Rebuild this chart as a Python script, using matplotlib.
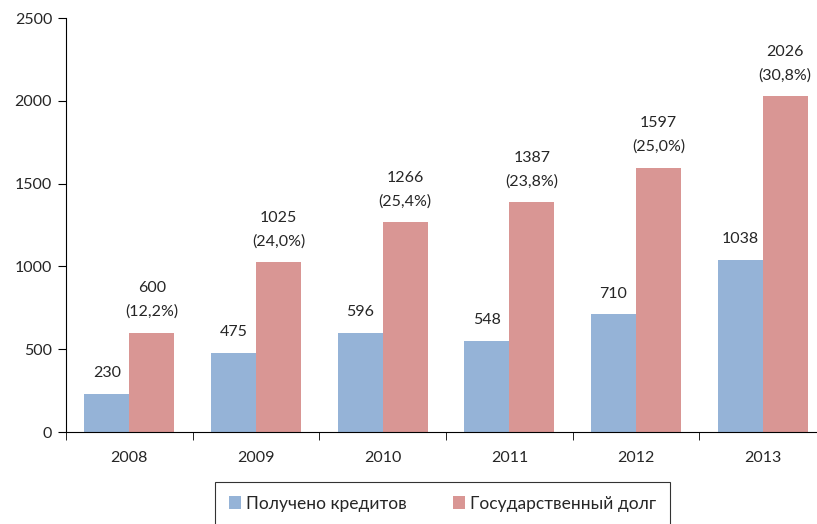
import numpy as np
import matplotlib
matplotlib.use("Agg")
import matplotlib.pyplot as plt

years = ["2008", "2009", "2010", "2011", "2012", "2013"]
credits = [230, 475, 596, 548, 710, 1038]
debt = [600, 1025, 1266, 1387, 1597, 2026]
debt_share = ["12,2%", "24,0%", "25,4%", "23,8%", "25,0%", "30,8%"]

plt.rcParams['font.family'] = ['Lato', 'DejaVu Sans']
plt.rcParams['font.size'] = 11
txt = '#262626'

fig = plt.figure(figsize=(8.17, 5.24), dpi=100)
# axes run slightly past the right edge, as in the original
ax = fig.add_axes([66 / 817, 1 - 432 / 524, 760 / 817, 414 / 524])

x = np.arange(len(years))
w = 0.355
b1 = ax.bar(x - w / 2, credits, w, color='#95B3D7', label='Получено кредитов')
b2 = ax.bar(x + w / 2, debt, w, color='#D99694', label='Государственный долг')

for xi, v in zip(x, credits):
    ax.annotate(str(v), (xi - w / 2, v), xytext=(0, 10), textcoords='offset points',
                ha='center', va='bottom', color=txt, fontsize=11.5)
for xi, v, s in zip(x, debt, debt_share):
    ax.annotate(f"{v}\n({s})", (xi + w / 2, v), xytext=(0, 10), textcoords='offset points',
                ha='center', va='bottom', color=txt, fontsize=11.5, linespacing=1.8)

ax.set_xlim(-0.5, len(years) - 0.5)
ax.set_ylim(0, 2500)
ax.set_yticks(range(0, 2501, 500))
ax.set_xticks(x)
ax.set_xticklabels(years)
ax.set_xticks(np.arange(-0.5, len(years), 1), minor=True)
ax.tick_params(axis='x', which='major', length=0, pad=14, labelcolor=txt, labelsize=11.5)
ax.tick_params(axis='x', which='minor', length=6, direction='out', color='black')
ax.tick_params(axis='y', length=6, direction='out', pad=4, labelcolor=txt, labelsize=11.5)

for sp in ['top', 'right']:
    ax.spines[sp].set_visible(False)
ax.spines['left'].set_color('black')
ax.spines['bottom'].set_color('black')

leg = fig.legend(handles=[b1, b2], loc='upper left',
                 bbox_to_anchor=(215 / 817, 1 - 487 / 524, 455 / 817, 0.01), mode='expand',
                 ncol=2, frameon=True, fancybox=False, edgecolor='black',
                 handlelength=0.7, handleheight=0.7, handletextpad=0.3, columnspacing=1.5,
                 borderpad=0.8, fontsize=12.5, borderaxespad=0)
leg.get_frame().set_linewidth(0.8)
for t in leg.get_texts():
    t.set_color(txt)

fig.savefig("out.png", dpi=100)
